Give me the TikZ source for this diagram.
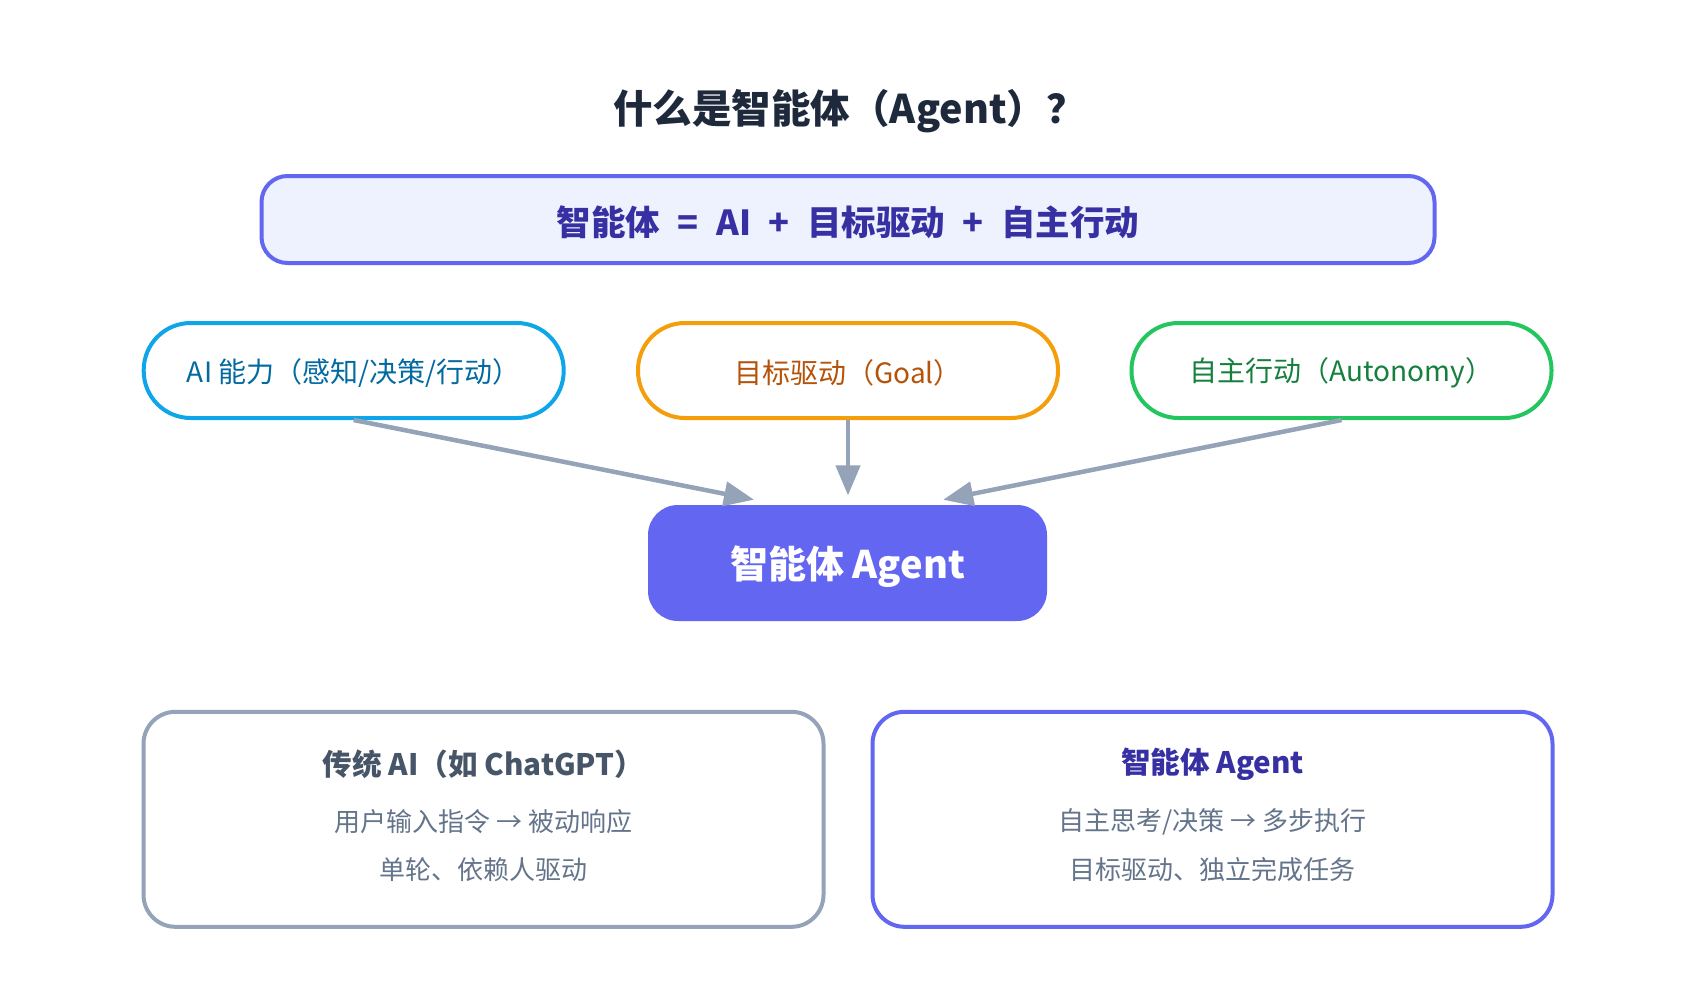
\documentclass[tikz,border=0pt]{standalone}
\usepackage{fontspec}
\setmainfont{Noto Sans CJK SC}
\usetikzlibrary{arrows.meta}
\definecolor{titlec}{HTML}{1E293B}
\definecolor{indigo}{HTML}{6366F1}
\definecolor{indigodark}{HTML}{3730A3}
\definecolor{indigolight}{HTML}{EEF2FF}
\definecolor{sky}{HTML}{0EA5E9}
\definecolor{skydark}{HTML}{0369A1}
\definecolor{amber}{HTML}{F59E0B}
\definecolor{amberdark}{HTML}{B45309}
\definecolor{greenc}{HTML}{22C55E}
\definecolor{greendark}{HTML}{15803D}
\definecolor{slatec}{HTML}{94A3B8}
\definecolor{slatedark}{HTML}{475569}
\definecolor{slatemid}{HTML}{64748B}
\begin{document}
\begin{tikzpicture}[x=1pt,y=-1pt,
  pill/.style={draw, line width=4pt, rounded corners=47pt, minimum width=420pt, minimum height=95pt, inner sep=0pt, fill=white},
  pilltext/.style={font=\fontsize{28}{32}\selectfont, inner sep=0pt},
  panel/.style={draw, line width=4pt, rounded corners=32pt, minimum width=680pt, minimum height=215pt, inner sep=0pt, fill=white},
  conn/.style={draw=slatec, line width=4.5pt, -{Triangle[length=30pt,width=24pt]}},
  ptitle/.style={font=\fontsize{29.6}{34}\selectfont\bfseries, inner sep=0pt},
  pline/.style={font=\fontsize{26}{30}\selectfont, text=slatemid, inner sep=0pt}
]
\useasboundingbox (0,0) rectangle (1696,982);
\fill[white] (0,0) rectangle (1696,982);

\node[font=\fontsize{39.5}{44}\selectfont\bfseries, text=titlec, inner sep=0pt] (title) at (849.5,111) {什么是智能体（Agent）？};

\node[draw=indigo, fill=indigolight, line width=4pt, rounded corners=26pt, minimum width=1173pt, minimum height=87pt, inner sep=0pt] (eq) at (848,219.5) {};
\node[font=\fontsize{34.5}{38}\selectfont\bfseries, text=indigodark, inner sep=0pt] (eqt) at (848,222.5)
  {智能体\hspace{17.5pt}=\hspace{17.5pt}AI\hspace{17.5pt}+\hspace{17.5pt}目标驱动\hspace{17.5pt}+\hspace{17.5pt}自主行动};

\node[pill, draw=sky] (ai) at (353.7,370.5) {};
\node[pill, draw=amber] (goal) at (848,370.5) {};
\node[pill, draw=greenc] (auto) at (1341.5,370.5) {};
\node[pilltext, text=skydark] (ait) at (353.7,373) {AI 能力（感知/决策/行动）};
\node[pilltext, text=amberdark] (goalt) at (848,372.5) {目标驱动（Goal）};
\node[pilltext, text=greendark] (autot) at (1341.5,373) {自主行动（Autonomy）};

\node[fill=indigo, rounded corners=30pt, minimum width=399pt, minimum height=116pt, inner sep=0pt] (agent) at (847.5,563) {};
\node[font=\fontsize{38}{42}\selectfont\bfseries, text=white, inner sep=0pt] (agentt) at (847.5,567) {智能体 Agent};

\coordinate (e1) at (754,499.7);
\coordinate (e2) at (848,495.4);
\coordinate (e3) at (943.2,499.7);
\draw[conn] (ai.south) -- (e1);
\draw[conn] (goal.south) -- (e2);
\draw[conn] (auto.south) -- (e3);

\node[panel, draw=slatec] (trad) at (483.5,819.3) {};
\node[panel, draw=indigo] (agbox) at (1212.5,819.3) {};

\node[ptitle, text=slatedark] (tradt) at (483.5,764.5) {传统 AI（如 ChatGPT）};
\node[pline] (trad1) at (483.5,821.5) {用户输入指令 → 被动响应};
\node[pline] (trad2) at (483.5,869.5) {单轮、依赖人驱动};

\node[ptitle, text=indigodark] (agt) at (1212.5,764.5) {智能体 Agent};
\node[pline] (ag1) at (1212.5,821.5) {自主思考/决策 → 多步执行};
\node[pline] (ag2) at (1212.5,869.5) {目标驱动、独立完成任务};
\end{tikzpicture}
\end{document}
